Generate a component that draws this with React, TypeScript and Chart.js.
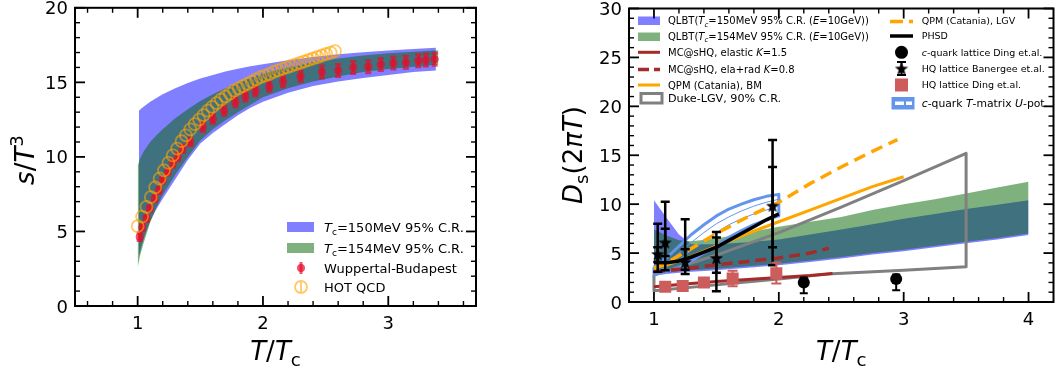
import React, { useEffect, useRef } from 'react';
import { Chart, registerables } from 'chart.js';

Chart.register(...registerables);

const FONT = '"DejaVu Sans", "Liberation Sans", sans-serif';

// ================= Left panel: s/T^3 vs T/Tc =================
const L_X_TICKS = [1, 2, 3];
const L_Y_TICKS = [0, 5, 10, 15, 20];

const L_BLUE_X = [1.01, 1.03, 1.06, 1.1, 1.15, 1.2, 1.3, 1.4, 1.5, 1.6, 1.7, 1.8, 1.9, 2.0, 2.2, 2.4, 2.6, 2.8, 3.0, 3.2, 3.38];
const L_BLUE_UP = [13.1, 13.25, 13.45, 13.7, 13.95, 14.2, 14.6, 14.95, 15.25, 15.5, 15.72, 15.92, 16.08, 16.22, 16.48, 16.7, 16.88, 17.02, 17.14, 17.24, 17.32];
const L_BLUE_LO = [3.3, 4.0, 4.8, 5.7, 6.5, 7.2, 8.5, 9.8, 10.9, 11.6, 12.2, 12.8, 13.3, 13.7, 14.3, 14.75, 15.05, 15.3, 15.5, 15.7, 15.8];

const L_GREEN_X = [1.0, 1.02, 1.05, 1.1, 1.15, 1.2, 1.3, 1.4, 1.5, 1.6, 1.7, 1.8, 1.9, 2.0, 2.2, 2.4, 2.6, 2.8, 3.0, 3.2, 3.4];
const L_GREEN_UP = [9.4, 9.9, 10.4, 11.0, 11.45, 11.85, 12.6, 13.2, 13.75, 14.2, 14.6, 14.95, 15.3, 15.6, 16.0, 16.35, 16.6, 16.8, 16.95, 17.05, 17.15];
const L_GREEN_LO = [2.6, 3.4, 4.3, 5.6, 6.6, 7.45, 8.8, 10.0, 11.1, 11.85, 12.45, 13.0, 13.5, 14.0, 14.6, 15.05, 15.4, 15.7, 15.9, 16.05, 16.2];

const WB_X = [1.016, 1.037, 1.07, 1.096, 1.136, 1.17, 1.2, 1.24, 1.28, 1.32, 1.36, 1.42, 1.52, 1.6, 1.69, 1.78, 1.86, 1.94, 2.05, 2.16, 2.3, 2.47, 2.6, 2.72, 2.84, 2.94, 3.04, 3.14, 3.24, 3.3, 3.37];
const WB_Y = [4.64, 5.26, 5.87, 6.53, 7.2, 7.76, 8.43, 8.98, 9.55, 9.99, 10.55, 11.0, 12.0, 12.55, 13.1, 13.67, 14.05, 14.4, 14.7, 15.05, 15.4, 15.7, 15.8, 16.0, 16.05, 16.2, 16.3, 16.35, 16.45, 16.5, 16.55];
const WB_ERR = [0.25, 0.2, 0.2, 0.2, 0.2, 0.2, 0.2, 0.2, 0.25, 0.25, 0.25, 0.25, 0.3, 0.3, 0.3, 0.3, 0.3, 0.3, 0.3, 0.35, 0.35, 0.4, 0.4, 0.4, 0.4, 0.4, 0.4, 0.4, 0.4, 0.4, 0.4];

const HOT_X = [1.0, 1.035, 1.07, 1.105, 1.14, 1.175, 1.21, 1.245, 1.28, 1.315, 1.35, 1.385, 1.42, 1.455, 1.49, 1.525, 1.56, 1.595, 1.63, 1.665, 1.7, 1.735, 1.77, 1.805, 1.84, 1.875, 1.91, 1.945, 1.98, 2.015, 2.05, 2.085, 2.12, 2.155, 2.19, 2.225, 2.26, 2.295, 2.33, 2.365, 2.4, 2.435, 2.47, 2.505, 2.54, 2.575];
const HOT_Y = [5.35, 6.0, 6.65, 7.3, 7.95, 8.55, 9.1, 9.6, 10.1, 10.55, 11.05, 11.45, 11.85, 12.2, 12.5, 12.8, 13.1, 13.35, 13.6, 13.85, 14.05, 14.25, 14.45, 14.6, 14.75, 14.9, 15.05, 15.2, 15.35, 15.45, 15.55, 15.7, 15.8, 15.9, 16.0, 16.1, 16.2, 16.3, 16.4, 16.5, 16.6, 16.7, 16.8, 16.9, 17.0, 17.1];

// ================= Right panel: Ds(2piT) vs T/Tc =================
const R_X_TICKS = [1, 2, 3, 4];
const R_Y_TICKS = [0, 5, 10, 15, 20, 25, 30];

const R_BAND_X = [1.0, 1.1, 1.2, 1.3, 1.5, 1.75, 2.0, 2.25, 2.5, 2.75, 3.0, 3.25, 3.5, 3.75, 4.0];
const R_BLUE_UP = [10.4, 8.6, 6.9, 5.9, 5.9, 6.1, 6.4, 6.9, 7.4, 7.95, 8.5, 9.0, 9.5, 9.95, 10.4];
const R_BLUE_LO = [2.7, 2.85, 3.0, 3.1, 3.25, 3.5, 3.75, 4.1, 4.45, 4.85, 5.2, 5.6, 6.0, 6.4, 6.85];
const R_GREEN_UP = [7.4, 6.8, 6.3, 6.2, 6.5, 7.1, 7.7, 8.2, 8.7, 9.4, 10.0, 10.5, 11.1, 11.7, 12.3];
const R_GREEN_LO = [2.85, 3.0, 3.15, 3.25, 3.4, 3.65, 3.9, 4.25, 4.6, 5.0, 5.35, 5.75, 6.15, 6.55, 7.0];

const DUKE_UP_X = [1.0, 1.5, 2.0, 2.5, 3.0, 3.5];
const DUKE_UP_Y = [2.75, 4.8, 7.1, 9.7, 12.4, 15.2];
const DUKE_LO_X = [1.0, 1.5, 2.0, 2.43, 3.0, 3.5];
const DUKE_LO_Y = [1.15, 1.75, 2.35, 2.9, 3.25, 3.6];

const TM_X = [1.0, 1.1, 1.2, 1.3, 1.4, 1.5, 1.6, 1.7, 1.8, 1.9, 2.0];
const TM_UP = [3.6, 4.5, 5.7, 6.9, 7.9, 8.8, 9.5, 10.0, 10.45, 10.8, 11.0];
const TM_LO = [2.8, 3.1, 3.5, 4.2, 5.0, 5.8, 6.6, 7.3, 7.9, 8.4, 8.8];
const TM_IN1 = [3.1, 3.6, 4.3, 5.3, 6.2, 7.1, 7.9, 8.5, 9.0, 9.4, 9.8];
const TM_IN2 = [3.3, 4.0, 5.0, 6.1, 7.1, 8.0, 8.7, 9.3, 9.8, 10.2, 10.5];

const MCE_X = [1.0, 1.25, 1.5, 1.75, 2.0, 2.25, 2.43];
const MCE_Y = [1.55, 1.85, 2.1, 2.3, 2.5, 2.7, 2.92];
const MCR_X = [1.0, 1.25, 1.5, 1.75, 2.0, 2.25, 2.4];
const MCR_Y = [3.1, 3.4, 3.8, 4.15, 4.5, 5.0, 5.5];

const QBM_X = [1.0, 1.1, 1.25, 1.5, 1.75, 2.0, 2.25, 2.5, 2.75, 3.0];
const QBM_Y = [3.5, 3.8, 4.4, 5.7, 7.0, 8.2, 9.4, 10.6, 11.8, 12.8];
const QLGV_X = [1.0, 1.1, 1.25, 1.5, 1.75, 2.0, 2.25, 2.5, 2.75, 2.95];
const QLGV_Y = [3.4, 4.0, 5.1, 7.0, 8.7, 10.2, 12.1, 13.8, 15.4, 16.6];

const PHSD_X = [1.0, 1.1, 1.2, 1.3, 1.4, 1.5, 1.6, 1.7, 1.8, 1.9, 2.0];
const PHSD_Y = [4.05, 4.0, 4.2, 4.6, 5.1, 5.6, 6.3, 7.0, 7.7, 8.4, 9.0];

const CQ_X = [2.2, 2.94];
const CQ_Y = [2.0, 2.35];
const CQ_LO = [0.9, 1.2];
const CQ_HI = [2.5, 2.8];

const HQB_X = [1.03, 1.09, 1.25, 1.5, 1.95];
const HQB_Y = [4.9, 6.1, 4.1, 4.5, 9.85];
const HQB_SYS_LO = [3.1, 3.25, 2.85, 1.1, 3.75];
const HQB_SYS_HI = [8.0, 10.25, 8.45, 7.15, 16.55];
const HQB_STAT_LO = [4.1, 4.7, 3.3, 3.0, 5.6];
const HQB_STAT_HI = [5.6, 7.5, 5.4, 6.6, 13.8];

const HQD_X = [1.09, 1.23, 1.4, 1.63, 1.98];
const HQD_Y = [1.55, 1.63, 2.0, 2.4, 2.95];
const HQD_ERR = [0.1, 0.15, 0.3, 0.8, 1.05];

// ================= colours =================
const C_BLUE = 'rgba(0,0,255,0.5)';
const C_GREEN = 'rgba(0,100,0,0.5)';
const C_WB = 'rgba(235,10,40,0.7)';
const C_HOT = 'rgba(255,165,0,0.6)';
const C_BROWN = '#A52A2A';
const C_ORANGE = '#FFA500';
const C_GRAY = '#808080';
const C_CORN = '#6495ED';
const C_INDIAN = '#CD5C5C';

// ================= helpers =================
type Part = { t: string; it?: boolean; sub?: boolean; sup?: boolean };

const pts = (xs: number[], ys: number[]) => xs.map((x, i) => ({ x, y: ys[i] }));
const ring = (xu: number[], yu: number[], xl: number[], yl: number[]) => [
  ...pts(xu, yu),
  ...pts(xl, yl).reverse(),
  { x: xu[0], y: yu[0] },
];

function drawRich(ctx: CanvasRenderingContext2D, parts: Part[], x: number, y: number, size: number, align: 'left' | 'center' | 'right') {
  const fonts = parts.map((p) => `${p.it ? 'italic ' : ''}${p.sub || p.sup ? size * 0.7 : size}px ${FONT}`);
  const widths = parts.map((p, i) => {
    ctx.font = fonts[i];
    return ctx.measureText(p.t).width;
  });
  const total = widths.reduce((a, b) => a + b, 0);
  let cx = align === 'left' ? x : align === 'center' ? x - total / 2 : x - total;
  ctx.textAlign = 'left';
  ctx.textBaseline = 'alphabetic';
  parts.forEach((p, i) => {
    ctx.font = fonts[i];
    const dy = p.sub ? size * 0.22 : p.sup ? -size * 0.42 : 0;
    ctx.fillText(p.t, cx, y + dy);
    cx += widths[i];
  });
}

function minorTicks(min: number, max: number, step: number, majors: number[]) {
  const out: number[] = [];
  for (let k = Math.ceil(min / step - 1e-9); k * step <= max + 1e-9; k++) {
    const v = +(k * step).toFixed(6);
    if (v <= min + 1e-9 || v >= max - 1e-9) continue;
    if (majors.some((m) => Math.abs(m - v) < 1e-6)) continue;
    out.push(v);
  }
  return out;
}

function drawAxes(chart: any, xTicks: number[], yTicks: number[], xStep: number, yStep: number) {
  const { ctx, chartArea: a, scales } = chart;
  const sx = scales.x;
  const sy = scales.y;
  ctx.save();
  ctx.strokeStyle = '#000';
  const seg = (x1: number, y1: number, x2: number, y2: number, w: number) => {
    ctx.lineWidth = w;
    ctx.beginPath();
    ctx.moveTo(x1, y1);
    ctx.lineTo(x2, y2);
    ctx.stroke();
  };
  const MAJ = 10;
  const MIN = 5;
  for (const v of xTicks) {
    const x = sx.getPixelForValue(v);
    seg(x, a.bottom, x, a.bottom - MAJ, 1.8);
    seg(x, a.top, x, a.top + MAJ, 1.8);
  }
  for (const v of minorTicks(sx.min, sx.max, xStep, xTicks)) {
    const x = sx.getPixelForValue(v);
    seg(x, a.bottom, x, a.bottom - MIN, 1.4);
    seg(x, a.top, x, a.top + MIN, 1.4);
  }
  for (const v of yTicks) {
    const y = sy.getPixelForValue(v);
    seg(a.left, y, a.left + MAJ, y, 1.8);
    seg(a.right, y, a.right - MAJ, y, 1.8);
  }
  for (const v of minorTicks(sy.min, sy.max, yStep, yTicks)) {
    const y = sy.getPixelForValue(v);
    seg(a.left, y, a.left + MIN, y, 1.4);
    seg(a.right, y, a.right - MIN, y, 1.4);
  }
  ctx.lineWidth = 2;
  ctx.strokeRect(a.left, a.top, a.right - a.left, a.bottom - a.top);

  ctx.fillStyle = '#000';
  ctx.font = `18px ${FONT}`;
  ctx.textBaseline = 'alphabetic';
  ctx.textAlign = 'center';
  for (const v of xTicks) ctx.fillText(String(v), sx.getPixelForValue(v), a.bottom + 22.5);
  ctx.textAlign = 'right';
  for (const v of yTicks) ctx.fillText(String(v), a.left - 7, sy.getPixelForValue(v) + 6.5);
  ctx.restore();
}

const errorBarPlugin = {
  id: 'errbars',
  beforeDatasetDraw(chart: any, args: any) {
    const ds: any = chart.data.datasets[args.index];
    if (!ds.errBars) return;
    const { ctx, chartArea: a, scales } = chart;
    ctx.save();
    ctx.beginPath();
    ctx.rect(a.left, a.top, a.right - a.left, a.bottom - a.top);
    ctx.clip();
    for (const eb of ds.errBars) {
      ctx.strokeStyle = eb.color;
      ctx.lineWidth = eb.width;
      ds.data.forEach((p: any, i: number) => {
        const x = scales.x.getPixelForValue(p.x);
        const y1 = scales.y.getPixelForValue(eb.lo[i]);
        const y2 = scales.y.getPixelForValue(eb.hi[i]);
        ctx.beginPath();
        ctx.moveTo(x, y1);
        ctx.lineTo(x, y2);
        if (eb.cap) {
          ctx.moveTo(x - eb.cap, y1);
          ctx.lineTo(x + eb.cap, y1);
          ctx.moveTo(x - eb.cap, y2);
          ctx.lineTo(x + eb.cap, y2);
        }
        ctx.stroke();
      });
    }
    ctx.restore();
  },
};

const bandDs = (xs: number[], up: number[], lo: number[], color: string) => [
  { data: pts(xs, up), borderColor: 'rgba(0,0,0,0)', borderWidth: 0, pointRadius: 0, fill: '+1', backgroundColor: color },
  { data: pts(xs, lo), borderColor: 'rgba(0,0,0,0)', borderWidth: 0, pointRadius: 0, fill: false },
];

const lineDs = (data: any[], color: string, width: number, dash: number[] = []) => ({
  data,
  borderColor: color,
  borderWidth: width,
  borderDash: dash,
  pointRadius: 0,
  fill: false,
  borderJoinStyle: 'round',
});

function withOrder(ds: any[]) {
  ds.forEach((d, i) => {
    d.order = ds.length - i;
  });
  return ds;
}

function baseOptions(pad: any, xMin: number, xMax: number, yMin: number, yMax: number): any {
  return {
    responsive: false,
    animation: false,
    events: [],
    layout: { padding: pad },
    scales: {
      x: { type: 'linear', min: xMin, max: xMax, display: false },
      y: { type: 'linear', min: yMin, max: yMax, display: false },
    },
    plugins: { legend: { display: false }, tooltip: { enabled: false } },
  };
}

function makeStar(size: number): HTMLCanvasElement {
  const c = document.createElement('canvas');
  c.width = size;
  c.height = size;
  const g = c.getContext('2d')!;
  const cx = size / 2;
  const cy = size / 2 + size * 0.05;
  const R = size / 2;
  const r = R * 0.42;
  g.beginPath();
  for (let k = 0; k < 10; k++) {
    const ang = -Math.PI / 2 + (k * Math.PI) / 5;
    const rad = k % 2 === 0 ? R : r;
    g.lineTo(cx + rad * Math.cos(ang), cy + rad * Math.sin(ang));
  }
  g.closePath();
  g.fillStyle = '#000';
  g.fill();
  return c;
}

// ================= Left chart =================
function leftConfig(): any {
  const datasets = withOrder([
    ...bandDs(L_BLUE_X, L_BLUE_UP, L_BLUE_LO, C_BLUE),
    ...bandDs(L_GREEN_X, L_GREEN_UP, L_GREEN_LO, C_GREEN),
    {
      data: pts(WB_X, WB_Y),
      showLine: false,
      pointRadius: 4,
      pointBackgroundColor: C_WB,
      pointBorderWidth: 0,
      errBars: [{ lo: WB_Y.map((y, i) => y - WB_ERR[i]), hi: WB_Y.map((y, i) => y + WB_ERR[i]), color: C_WB, width: 3, cap: 3 }],
    },
    {
      data: pts(HOT_X, HOT_Y),
      showLine: false,
      pointRadius: 6,
      pointBackgroundColor: 'rgba(0,0,0,0)',
      pointBorderColor: C_HOT,
      pointBorderWidth: 1.8,
    },
  ]);
  const decor = {
    id: 'leftDecor',
    afterDraw(chart: any) {
      const ctx: CanvasRenderingContext2D = chart.ctx;
      const a = chart.chartArea;
      drawAxes(chart, L_X_TICKS, L_Y_TICKS, 0.2, 1);
      ctx.save();
      ctx.fillStyle = '#000';
      drawRich(ctx, [{ t: 'T', it: true }, { t: '/' }, { t: 'T', it: true }, { t: 'c', sub: true }], (a.left + a.right) / 2, 360, 26, 'center');
      ctx.save();
      ctx.translate(34, 160);
      ctx.rotate(-Math.PI / 2);
      drawRich(ctx, [{ t: 's', it: true }, { t: '/' }, { t: 'T', it: true }, { t: '3', sup: true }], 0, 0, 26, 'center');
      ctx.restore();
      // legend
      ctx.fillStyle = C_BLUE;
      ctx.fillRect(287, 222, 27, 10);
      ctx.fillStyle = C_GREEN;
      ctx.fillRect(287, 243, 27, 10);
      ctx.strokeStyle = C_WB;
      ctx.lineWidth = 3;
      ctx.beginPath();
      ctx.moveTo(301, 262);
      ctx.lineTo(301, 274);
      ctx.stroke();
      ctx.fillStyle = C_WB;
      ctx.beginPath();
      ctx.arc(301, 268, 4, 0, Math.PI * 2);
      ctx.fill();
      ctx.strokeStyle = C_HOT;
      ctx.lineWidth = 1.8;
      ctx.beginPath();
      ctx.arc(301, 287, 6, 0, Math.PI * 2);
      ctx.moveTo(301, 281);
      ctx.lineTo(301, 293);
      ctx.stroke();
      ctx.fillStyle = '#000';
      const s = 13;
      const off = s * 0.36;
      drawRich(ctx, [{ t: 'T', it: true }, { t: 'c', sub: true }, { t: '=150MeV 95% C.R.' }], 324, 227 + off, s, 'left');
      drawRich(ctx, [{ t: 'T', it: true }, { t: 'c', sub: true }, { t: '=154MeV 95% C.R.' }], 324, 248 + off, s, 'left');
      drawRich(ctx, [{ t: 'Wuppertal-Budapest' }], 324, 268 + off, s, 'left');
      drawRich(ctx, [{ t: 'HOT QCD' }], 324, 287 + off, s, 'left');
      ctx.restore();
    },
  };
  return {
    type: 'line',
    data: { datasets },
    options: baseOptions({ left: 75, top: 7, right: 44, bottom: 68 }, 0.5, 3.7, 0, 20),
    plugins: [errorBarPlugin, decor],
  };
}

// ================= Right chart =================
function rightConfig(star: HTMLCanvasElement): any {
  const datasets = withOrder([
    ...bandDs(R_BAND_X, R_BLUE_UP, R_BLUE_LO, C_BLUE),
    ...bandDs(R_BAND_X, R_GREEN_UP, R_GREEN_LO, C_GREEN),
    lineDs(ring(DUKE_UP_X, DUKE_UP_Y, DUKE_LO_X, DUKE_LO_Y), C_GRAY, 3),
    lineDs(ring(TM_X, TM_UP, TM_X, TM_LO), C_CORN, 3),
    lineDs(pts(TM_X, TM_IN1), C_CORN, 1),
    lineDs(pts(TM_X, TM_IN2), C_CORN, 1),
    lineDs(pts(MCE_X, MCE_Y), C_BROWN, 3),
    lineDs(pts(MCR_X, MCR_Y), C_BROWN, 3.5, [11, 6]),
    lineDs(pts(QBM_X, QBM_Y), C_ORANGE, 3),
    lineDs(pts(QLGV_X, QLGV_Y), C_ORANGE, 3.5, [12, 7]),
    lineDs(pts(PHSD_X, PHSD_Y), '#000', 3.5),
    {
      data: pts(CQ_X, CQ_Y),
      showLine: false,
      pointRadius: 6,
      pointBackgroundColor: '#000',
      pointBorderWidth: 0,
      errBars: [{ lo: CQ_LO, hi: CQ_HI, color: '#000', width: 2, cap: 4 }],
    },
    {
      data: pts(HQB_X, HQB_Y),
      showLine: false,
      pointRadius: 7,
      pointStyle: star,
      errBars: [
        { lo: HQB_SYS_LO, hi: HQB_SYS_HI, color: '#000', width: 2.5, cap: 4.5 },
        { lo: HQB_STAT_LO, hi: HQB_STAT_HI, color: '#000', width: 2.5, cap: 4.5 },
      ],
    },
    {
      data: pts(HQD_X, HQD_Y),
      showLine: false,
      pointRadius: 8.5,
      pointStyle: 'rect',
      pointBackgroundColor: C_INDIAN,
      pointBorderWidth: 0,
      errBars: [{ lo: HQD_Y.map((y, i) => y - HQD_ERR[i]), hi: HQD_Y.map((y, i) => y + HQD_ERR[i]), color: C_INDIAN, width: 2, cap: 5 }],
    },
  ]);
  const decor = {
    id: 'rightDecor',
    afterDraw(chart: any) {
      const ctx: CanvasRenderingContext2D = chart.ctx;
      const a = chart.chartArea;
      drawAxes(chart, R_X_TICKS, R_Y_TICKS, 0.2, 1);
      ctx.save();
      ctx.fillStyle = '#000';
      drawRich(ctx, [{ t: 'T', it: true }, { t: '/' }, { t: 'T', it: true }, { t: 'c', sub: true }], (a.left + a.right) / 2, 360, 26, 'center');
      ctx.save();
      ctx.translate(62, 155);
      ctx.rotate(-Math.PI / 2);
      drawRich(
        ctx,
        [{ t: 'D', it: true }, { t: 's', sub: true }, { t: '(' }, { t: '2' }, { t: 'π', it: true }, { t: 'T', it: true }, { t: ')' }],
        0,
        0,
        26,
        'center'
      );
      ctx.restore();

      // ---- legend column 1 ----
      const x0 = 118;
      const x1 = 140;
      const tx = 148;
      const s = 10;
      const sb = 11.2;
      const hl = (y: number, color: string, w: number, dash: number[] = []) => {
        ctx.strokeStyle = color;
        ctx.lineWidth = w;
        ctx.setLineDash(dash);
        ctx.beginPath();
        ctx.moveTo(x0, y);
        ctx.lineTo(x1, y);
        ctx.stroke();
        ctx.setLineDash([]);
      };
      ctx.fillStyle = C_BLUE;
      ctx.fillRect(x0, 16.5, x1 - x0, 8.5);
      ctx.fillStyle = C_GREEN;
      ctx.fillRect(x0, 32.5, x1 - x0, 8.5);
      hl(52.3, C_BROWN, 3);
      hl(69.5, C_BROWN, 3.5, [11, 5]);
      hl(85, C_ORANGE, 3);
      ctx.strokeStyle = C_GRAY;
      ctx.lineWidth = 3;
      ctx.strokeRect(121, 93.5, 21, 9.5);
      ctx.fillStyle = '#000';
      drawRich(ctx, [{ t: 'QLBT(' }, { t: 'T', it: true }, { t: 'c', it: true, sub: true }, { t: '=150MeV 95% C.R. (' }, { t: 'E', it: true }, { t: '=10GeV))' }], tx, 20.8 + s * 0.36, s, 'left');
      drawRich(ctx, [{ t: 'QLBT(' }, { t: 'T', it: true }, { t: 'c', it: true, sub: true }, { t: '=154MeV 95% C.R. (' }, { t: 'E', it: true }, { t: '=10GeV))' }], tx, 36.5 + s * 0.36, s, 'left');
      drawRich(ctx, [{ t: 'MC@sHQ, elastic ' }, { t: 'K', it: true }, { t: '=1.5' }], tx, 52.3 + s * 0.36, s, 'left');
      drawRich(ctx, [{ t: 'MC@sHQ, ela+rad ' }, { t: 'K', it: true }, { t: '=0.8' }], tx, 69.3 + s * 0.36, s, 'left');
      drawRich(ctx, [{ t: 'QPM (Catania), BM' }], tx, 85 + s * 0.36, s, 'left');
      drawRich(ctx, [{ t: 'Duke-LGV, 90% C.R.' }], tx, 98.3 + sb * 0.36, sb, 'left');

      // ---- legend column 2 ----
      const u0 = 370;
      const u1 = 393;
      const uc = (u0 + u1) / 2;
      const ux = 401.7;
      const s2 = 9.5;
      const sb2 = 10.8;
      const hl2 = (y: number, color: string, w: number, dash: number[] = []) => {
        ctx.strokeStyle = color;
        ctx.lineWidth = w;
        ctx.setLineDash(dash);
        ctx.beginPath();
        ctx.moveTo(u0, y);
        ctx.lineTo(u1, y);
        ctx.stroke();
        ctx.setLineDash([]);
      };
      hl2(21.5, C_ORANGE, 3.5, [13, 6]);
      hl2(36, '#000', 3.5);
      ctx.fillStyle = '#000';
      ctx.beginPath();
      ctx.arc(uc, 52.3, 6.5, 0, Math.PI * 2);
      ctx.fill();
      ctx.strokeStyle = '#000';
      ctx.lineWidth = 2;
      ctx.beginPath();
      ctx.moveTo(uc, 62);
      ctx.lineTo(uc, 75);
      ctx.moveTo(uc - 4.5, 62);
      ctx.lineTo(uc + 4.5, 62);
      ctx.moveTo(uc - 4.5, 75);
      ctx.lineTo(uc + 4.5, 75);
      ctx.stroke();
      ctx.drawImage(star, uc - star.width / 2, 68.5 - star.height / 2);
      ctx.fillStyle = C_INDIAN;
      ctx.fillRect(uc - 6.5, 85 - 6.5, 13, 13);
      ctx.fillStyle = C_CORN;
      ctx.fillRect(u0 + 1.5, 97, 23, 12.5);
      ctx.fillStyle = '#fff';
      ctx.fillRect(u0 + 5, 101.5, 9, 3.5);
      ctx.fillRect(u0 + 16, 101.5, 6, 3.5);
      ctx.fillStyle = '#000';
      drawRich(ctx, [{ t: 'QPM (Catania), LGV' }], ux, 21 + s2 * 0.36, s2, 'left');
      drawRich(ctx, [{ t: 'PHSD' }], ux, 36 + s2 * 0.36, s2, 'left');
      drawRich(ctx, [{ t: 'c', it: true }, { t: '-quark lattice Ding et.al.' }], ux, 52.3 + s2 * 0.36, s2, 'left');
      drawRich(ctx, [{ t: 'HQ lattice Banergee et.al.' }], ux, 68.5 + s2 * 0.36, s2, 'left');
      drawRich(ctx, [{ t: 'HQ lattice Ding et.al.' }], ux, 85 + s2 * 0.36, s2, 'left');
      drawRich(
        ctx,
        [{ t: 'c', it: true }, { t: '-quark ' }, { t: 'T', it: true }, { t: '-matrix ' }, { t: 'U', it: true }, { t: '-pot.' }],
        ux,
        103.3 + sb2 * 0.36,
        sb2,
        'left'
      );
      ctx.restore();
    },
  };
  return {
    type: 'line',
    data: { datasets },
    options: baseOptions({ left: 109, top: 7, right: 6, bottom: 72 }, 0.8, 4.2, 0, 30),
    plugins: [errorBarPlugin, decor],
  };
}

export default function App() {
  const leftRef = useRef<HTMLCanvasElement>(null);
  const rightRef = useRef<HTMLCanvasElement>(null);
  useEffect(() => {
    const star = makeStar(14);
    const c1 = new Chart(leftRef.current as HTMLCanvasElement, leftConfig());
    const c2 = new Chart(rightRef.current as HTMLCanvasElement, rightConfig(star));
    return () => {
      c1.destroy();
      c2.destroy();
    };
  }, []);
  return (
    <div style={{ position: 'fixed', left: 0, top: 0, width: 1062, height: 374, background: '#fff' }}>
      <canvas ref={leftRef} width={520} height={374} style={{ position: 'absolute', left: 0, top: 0, width: 520, height: 374 }} />
      <canvas ref={rightRef} width={542} height={374} style={{ position: 'absolute', left: 520, top: 0, width: 542, height: 374 }} />
    </div>
  );
}
